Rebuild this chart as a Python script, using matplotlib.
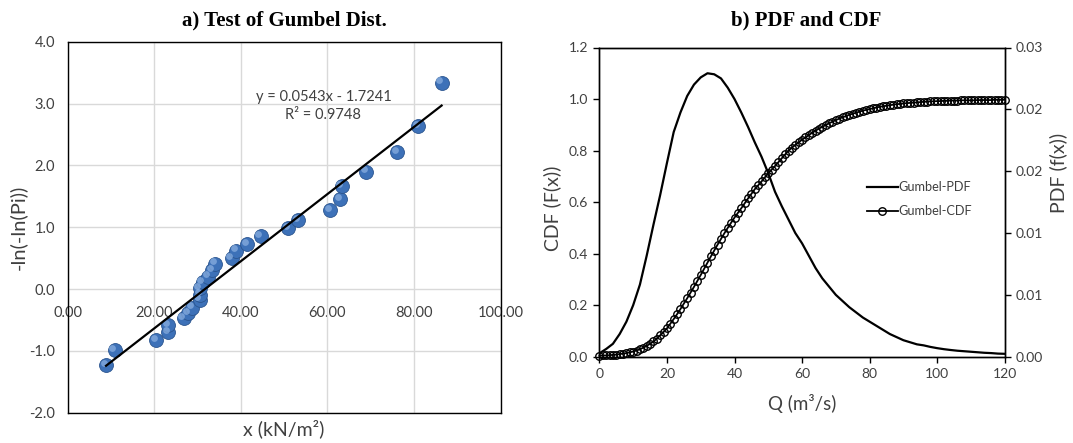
import matplotlib
matplotlib.use('Agg')
import matplotlib.pyplot as plt
import matplotlib.transforms as mtransforms
from matplotlib.ticker import FormatStrFormatter, MultipleLocator
import numpy as np

# a) Gumbel probability plot (observed points + Excel trendline)
x_obs = [8.9, 10.9, 20.5, 23.3, 23.3, 26.8, 27.8, 28.8, 30.5, 30.7, 30.5, 31.2, 32.4, 33.4,
         34.1, 37.9, 38.9, 41.5, 44.6, 51.0, 53.2, 60.6, 63.0, 63.3, 69.0, 76.2, 81.0, 86.4]
y_obs = [-1.23, -0.99, -0.82, -0.70, -0.58, -0.47, -0.39, -0.30, -0.17, -0.09, 0.02, 0.11, 0.20, 0.31,
         0.41, 0.50, 0.62, 0.73, 0.86, 0.98, 1.12, 1.28, 1.45, 1.67, 1.90, 2.21, 2.64, 3.34]
slope = 0.0543
intercept = -1.7241
r2 = 0.9748

# b) Gumbel CDF (markers every 1 m3/s) and PDF
cdf_q = list(range(0, 121))
cdf = [0.004, 0.005, 0.005, 0.006, 0.007, 0.008, 0.010, 0.012, 0.014, 0.017,
       0.020, 0.024, 0.029, 0.035, 0.042, 0.050, 0.059, 0.070, 0.083, 0.096,
       0.110, 0.128, 0.146, 0.165, 0.185, 0.206, 0.227, 0.249, 0.271, 0.294,
       0.317, 0.341, 0.365, 0.389, 0.412, 0.435, 0.457, 0.479, 0.500, 0.520,
       0.540, 0.558, 0.576, 0.595, 0.614, 0.632, 0.650, 0.665, 0.680, 0.696,
       0.712, 0.726, 0.740, 0.755, 0.770, 0.785, 0.800, 0.811, 0.822, 0.832,
       0.842, 0.851, 0.860, 0.869, 0.877, 0.885, 0.892, 0.899, 0.906, 0.912,
       0.918, 0.924, 0.929, 0.934, 0.939, 0.943, 0.947, 0.951, 0.955, 0.958,
       0.961, 0.964, 0.967, 0.970, 0.972, 0.974, 0.976, 0.978, 0.980, 0.981,
       0.983, 0.984, 0.985, 0.986, 0.987, 0.988, 0.989, 0.990, 0.991, 0.991,
       0.992, 0.992, 0.993, 0.993, 0.994, 0.994, 0.994, 0.995, 0.995, 0.995,
       0.995, 0.995, 0.996, 0.996, 0.996, 0.996, 0.996, 0.997, 0.997, 0.997,
       0.997]
pdf_q = list(range(0, 121, 2))
pdf = [0.00033, 0.00075, 0.00125, 0.0022, 0.0034, 0.0050, 0.0070, 0.0098, 0.0128, 0.0157,
       0.0188, 0.0218, 0.0237, 0.0253, 0.0264, 0.0271, 0.0275, 0.0274, 0.0270, 0.0261,
       0.0250, 0.0237, 0.0223, 0.0208, 0.0194, 0.0178, 0.0160, 0.0146, 0.0133, 0.0120,
       0.0110, 0.0098, 0.0086, 0.0076, 0.0068, 0.0060, 0.0054, 0.0048, 0.0043, 0.0038,
       0.0034, 0.0030, 0.0026, 0.0022, 0.0019, 0.0016, 0.0014, 0.0012, 0.0011, 0.00095,
       0.00083, 0.00073, 0.00065, 0.00058, 0.00053, 0.00048, 0.00043, 0.00038, 0.00035, 0.00030,
       0.00028]

plt.rcParams['font.family'] = ['Lato', 'DejaVu Sans']
text_col = '#404040'

W, H = 1073, 443
fig = plt.figure(figsize=(W / 100, H / 100), dpi=100)

# ---------------- left chart ----------------
ax1 = fig.add_axes([67.5 / W, 1 - 412.7 / H, 433 / W, 371 / H])
ymin, ymax = -2, 4
ax1.set_xlim(0, 100)
ax1.set_ylim(ymin, ymax)
ax1.set_xticks(np.arange(0, 101, 20))
ax1.set_yticks(np.arange(ymin, ymax + 1, 1))
ax1.grid(color='#d9d9d9', lw=1.0)
ax1.set_axisbelow(True)
ax1.tick_params(axis='x', length=0, labelbottom=False)
ax1.tick_params(axis='y', length=0, pad=9, labelsize=10.5, labelcolor=text_col)
ax1.yaxis.set_major_formatter(FormatStrFormatter('%.1f'))
for s in ax1.spines.values():
    s.set_color('black')
    s.set_linewidth(1.0)

# x tick labels sit on the y = 0 line (Excel style)
sec = ax1.secondary_xaxis((0 - ymin) / (ymax - ymin))
sec.set_xticks(np.arange(0, 101, 20))
sec.xaxis.set_major_formatter(FormatStrFormatter('%.2f'))
sec.tick_params(length=0, pad=12, labelsize=10.5, labelcolor=text_col)
for s in sec.spines.values():
    s.set_visible(False)

# spheres: base marker + small highlight
ax1.scatter(x_obs, y_obs, s=100, color='#3d71b8', edgecolors='#2b558f', linewidths=0.6, zorder=3)
shine = ax1.transData + mtransforms.ScaledTranslation(-1.6 / 72, 1.6 / 72, fig.dpi_scale_trans)
ax1.scatter(x_obs, y_obs, s=24, color='#8db2e2', alpha=0.7, linewidths=0, transform=shine, zorder=4)

xl = np.array([min(x_obs), max(x_obs)])
ax1.plot(xl, slope * xl + intercept, color='black', lw=1.6, zorder=5)
ax1.text(0.591, 0.826, f'y = {slope:.4f}x - {abs(intercept):.4f}\nR² = {r2:.4f}',
         transform=ax1.transAxes, ha='center', va='center', fontsize=10.5,
         color=text_col, linespacing=1.35)

ax1.set_ylabel('-ln(-ln(Pi))', fontsize=14.5, color=text_col)
ax1.yaxis.set_label_coords(-0.094, 0.5)
ax1.set_xlabel('x (kN/m²)', fontsize=14, color=text_col)
ax1.xaxis.set_label_coords(0.5, -0.018)

# ---------------- right chart ----------------
ax2 = fig.add_axes([599.4 / W, 1 - 356.7 / H, 405.3 / W, 309.2 / H])
ax3 = ax2.twinx()

l_cdf, = ax2.plot(cdf_q, cdf, color='black', lw=1.3, marker='o', ms=5.4, mfc='none',
                  mec='black', mew=1.0, clip_on=False, zorder=3)
l_pdf, = ax3.plot(pdf_q, pdf, color='black', lw=1.6)

ax2.set_xlim(0, 120)
ax2.set_ylim(0, 1.2)
ax3.set_ylim(0, 0.03)
ax2.xaxis.set_major_locator(MultipleLocator(20))
ax2.yaxis.set_major_locator(MultipleLocator(0.2))
ax3.yaxis.set_major_locator(MultipleLocator(0.006))
ax2.yaxis.set_major_formatter(FormatStrFormatter('%.1f'))
ax3.yaxis.set_major_formatter(FormatStrFormatter('%.2f'))
for a in (ax2, ax3):
    a.tick_params(direction='out', length=4, width=1, labelsize=10, labelcolor=text_col, pad=4)
    for s in a.spines.values():
        s.set_color('black')
        s.set_linewidth(1.0)

ax2.set_xlabel('Q (m³/s)', fontsize=13.5, color=text_col)
ax2.xaxis.set_label_coords(0.5, -0.12)
ax2.set_ylabel('CDF (F(x))', fontsize=14, color=text_col)
ax2.yaxis.set_label_coords(-0.094, 0.48)
ax3.set_ylabel('PDF (f(x))', fontsize=14, color=text_col)
ax3.yaxis.set_label_coords(1.11, 0.594)

ax3.legend([l_pdf, l_cdf], ['Gumbel-PDF', 'Gumbel-CDF'], loc='center left',
           bbox_to_anchor=(0.66, 0.509), frameon=False, fontsize=9.2, labelcolor=text_col,
           handlelength=2.4, handletextpad=0.1, labelspacing=0.95, borderpad=0, borderaxespad=0)

# titles
fig.text(284 / W, 1 - 20 / H, 'a) Test of Gumbel Dist.', ha='center', va='center',
         fontsize=15, fontweight='bold', family='Liberation Serif')
fig.text(806 / W, 1 - 20 / H, 'b) PDF and CDF', ha='center', va='center',
         fontsize=15, fontweight='bold', family='Liberation Serif')

fig.savefig('out.png', dpi=100)
